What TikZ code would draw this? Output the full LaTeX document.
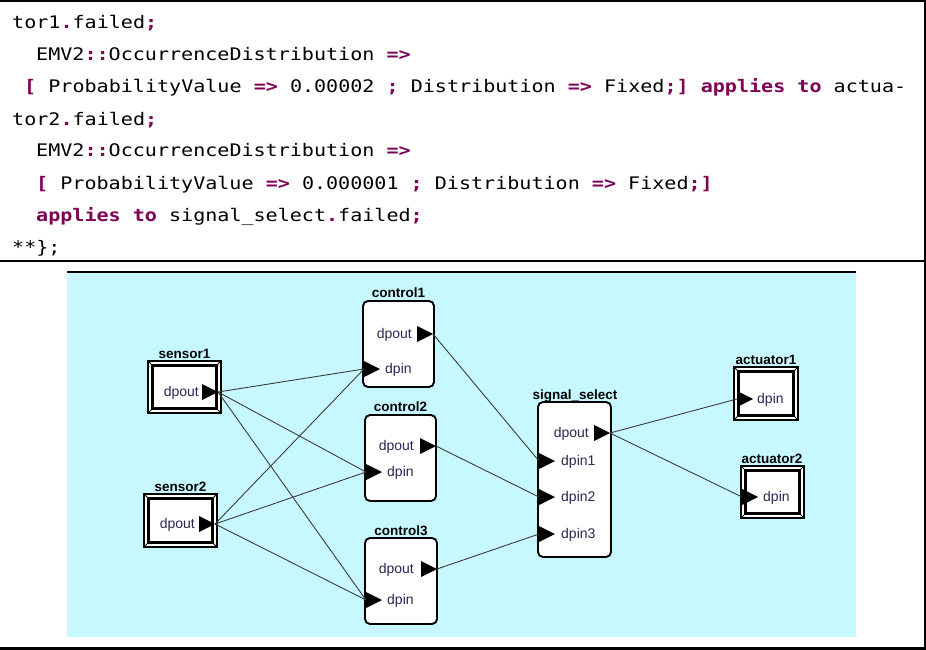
\documentclass[tikz,border=0pt]{standalone}
\usepackage{fontspec}
\setmainfont{Liberation Sans}
\newfontfamily\codefont[FakeStretch=1.16]{DejaVu Sans Mono}
\definecolor{kwc}{RGB}{127,0,85}
\definecolor{bgc}{RGB}{200,248,255}
\definecolor{portc}{RGB}{45,38,88}
\definecolor{linec}{RGB}{60,60,60}
\newcommand\kw[1]{\textcolor{kwc}{\bfseries #1}}
\newcommand\fbx[5]{%
  \node[fouter, minimum width=#4pt, minimum height=#5pt] (#1) at (#2,#3) {};
  \draw[line width=2.4pt] ([shift={(4.5,4.5)}]#1.north west) rectangle ([shift={(-4.5,-4.5)}]#1.south east);
  \draw[line width=0.8pt] (#1.north west) -- ++(4.5,4.5) (#1.north east) -- ++(-4.5,4.5)
        (#1.south west) -- ++(4.5,-4.5) (#1.south east) -- ++(-4.5,-4.5);
}
\newcommand\outport[3]{\coordinate (#1) at (#2,#3); \fill (#1) -- ++(-16,-8) -- ++(0,16) -- cycle;}
\newcommand\inport[3]{\coordinate (#1) at (#2,#3); \fill (#1) -- ++(0,-8) -- ++(16,8) -- ++(-16,8) -- cycle;}
\begin{document}
\begin{tikzpicture}[x=1pt,y=-1pt,
  codeline/.style={anchor=base west, inner sep=0pt, font=\codefont\fontsize{17.3}{19}\selectfont},
  fouter/.style={draw, line width=1.4pt, fill=white, inner sep=0pt, outer sep=0pt},
  cbox/.style={draw, line width=1.9pt, fill=white, rounded corners=5pt, inner sep=0pt, outer sep=0pt},
  lbl/.style={anchor=base, inner sep=0pt, font=\fontsize{13.5}{15}\selectfont\bfseries},
  ptxt/.style={inner sep=0pt, yshift=-1.5pt, text=portc, font=\fontsize{14}{16}\selectfont},
  conn/.style={draw=linec, line width=0.9pt}]
\useasboundingbox (0,0) rectangle (926,650);
% page rules
\draw[line width=2.5pt] (0,1.2) -- (926,1.2);
\draw[line width=2.5pt] (0,261) -- (926,261);
\draw[line width=3pt] (0,648.5) -- (926,648.5);
\draw[line width=2pt] (925,0) -- (925,650);
% code
\node[codeline] (l1) at (12,29) {tor1\kw{.}failed\kw{;}};
\node[codeline] (l2) at (36,61) {EMV2\kw{::}OccurrenceDistribution \kw{=>}};
\node[codeline] (l3) at (24,93) {\kw{[} ProbabilityValue \kw{=>} 0.00002 \kw{;} Distribution \kw{=>} Fixed\kw{;]} \kw{applies to} actua-};
\node[codeline] (l4) at (12,125) {tor2\kw{.}failed\kw{;}};
\node[codeline] (l5) at (36,157) {EMV2\kw{::}OccurrenceDistribution \kw{=>}};
\node[codeline] (l6) at (36,189) {\kw{[} ProbabilityValue \kw{=>} 0.000001 \kw{;} Distribution \kw{=>} Fixed\kw{;]}};
\node[codeline] (l7) at (36,221) {\kw{applies to} signal\_select\kw{.}failed\kw{;}};
\node[codeline] (l8) at (12,253) {**\};};
% diagram background
\fill[bgc] (67,272) rectangle (856,637);
\draw[line width=2pt] (67,271.5) -- (856,271.5);
% sensors
\fbx{sensor1}{184.5}{387}{73}{52}
\node[lbl] (sensor1lbl) at (184.5,358.5) {sensor1};
\outport{s1out}{218}{392}
\node[ptxt, anchor=mid east] (s1outt) at (199,392) {dpout};
\fbx{sensor2}{180.5}{520.5}{73}{53}
\node[lbl] (sensor2lbl) at (180.5,491) {sensor2};
\outport{s2out}{215}{524}
\node[ptxt, anchor=mid east] (s2outt) at (195,524) {dpout};
% controls
\node[cbox, minimum width=71pt, minimum height=86pt] (control1) at (398.5,344) {};
\node[lbl] (control1lbl) at (398.5,297.5) {control1};
\outport{c1out}{433}{334}
\node[ptxt, anchor=mid east] (c1outt) at (412,334) {dpout};
\inport{c1in}{364}{369}
\node[ptxt, anchor=mid west] (c1int) at (385,369) {dpin};
\node[cbox, minimum width=71pt, minimum height=86pt] (control2) at (400.5,458) {};
\node[lbl] (control2lbl) at (400.5,411) {control2};
\outport{c2out}{436}{446}
\node[ptxt, anchor=mid east] (c2outt) at (414,446) {dpout};
\inport{c2in}{366}{472}
\node[ptxt, anchor=mid west] (c2int) at (387,472) {dpin};
\node[cbox, minimum width=72pt, minimum height=86pt] (control3) at (401,581) {};
\node[lbl] (control3lbl) at (401,535) {control3};
\outport{c3out}{437}{569}
\node[ptxt, anchor=mid east] (c3outt) at (414,569) {dpout};
\inport{c3in}{366}{600}
\node[ptxt, anchor=mid west] (c3int) at (387,600) {dpin};
% signal select
\node[cbox, minimum width=73pt, minimum height=155pt] (sigsel) at (574.5,479.5) {};
\node[lbl] (sigsellbl) at (575,399) {signal\_select};
\outport{ssout}{610}{433}
\node[ptxt, anchor=mid east] (ssoutt) at (589,433) {dpout};
\inport{ssin1}{539}{461}
\node[ptxt, anchor=mid west] (ssin1t) at (561,461) {dpin1};
\inport{ssin2}{539}{497}
\node[ptxt, anchor=mid west] (ssin2t) at (561,497) {dpin2};
\inport{ssin3}{539}{534}
\node[ptxt, anchor=mid west] (ssin3t) at (561,534) {dpin3};
% actuators
\fbx{actuator1}{766}{393.5}{64}{53}
\node[lbl] (actuator1lbl) at (766,364.5) {actuator1};
\inport{a1in}{737}{399}
\node[ptxt, anchor=mid west] (a1int) at (757,399) {dpin};
\fbx{actuator2}{772.5}{492}{63}{52}
\node[lbl] (actuator2lbl) at (772,463.5) {actuator2};
\inport{a2in}{742}{497}
\node[ptxt, anchor=mid west] (a2int) at (763,497) {dpin};
% connectors
\draw[conn] (s1out) -- (c1in);
\draw[conn] (s1out) -- (c2in);
\draw[conn] (s1out) -- (c3in);
\draw[conn] (s2out) -- (c1in);
\draw[conn] (s2out) -- (c2in);
\draw[conn] (s2out) -- (c3in);
\draw[conn] (c1out) -- (ssin1);
\draw[conn] (c2out) -- (ssin2);
\draw[conn] (c3out) -- (ssin3);
\draw[conn] (ssout) -- (a1in);
\draw[conn] (ssout) -- (a2in);
\end{tikzpicture}
\end{document}
